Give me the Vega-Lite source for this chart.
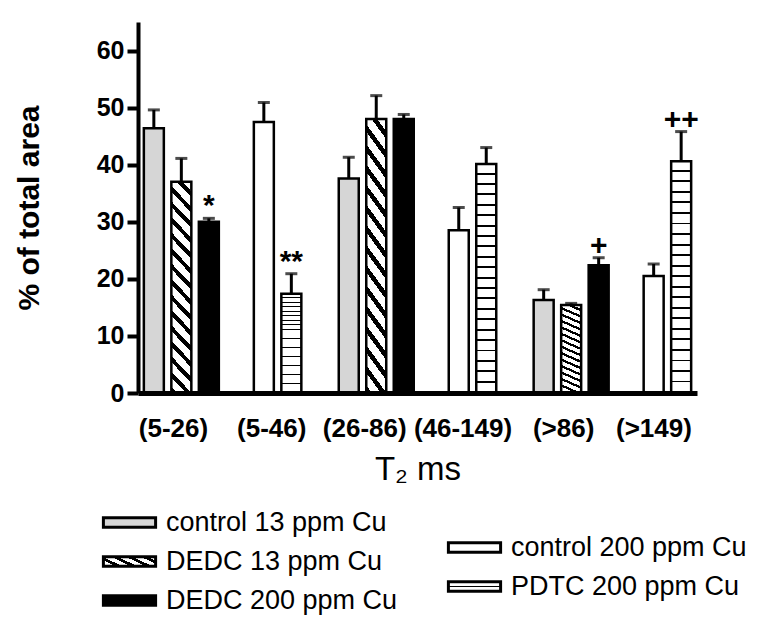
{
  "$schema": "https://vega.github.io/schema/vega-lite/v6.json",
  "width": 559,
  "height": 371,
  "autosize": {"type": "none"},
  "padding": {"left": 138, "top": 22, "right": 61, "bottom": 243},
  "background": "white",
  "config": {"view": {"stroke": null}, "font": "Liberation Sans"},
  "data": {
    "values": [
      {"component": "c1", "interval": "(5-26)", "series": "control 13 ppm Cu", "value": 46.4, "upper": 49.6, "ann": ""},
      {"component": "c1", "interval": "(5-26)", "series": "DEDC 13 ppm Cu", "value": 37.0, "upper": 41.1, "ann": ""},
      {"component": "c1", "interval": "(5-26)", "series": "DEDC 200 ppm Cu", "value": 30.0, "upper": 30.6, "ann": "*"},
      {"component": "c1", "interval": "(5-46)", "series": "control 200 ppm Cu", "value": 47.5, "upper": 50.9, "ann": ""},
      {"component": "c1", "interval": "(5-46)", "series": "PDTC 200 ppm Cu", "value": 17.4, "upper": 20.9, "ann": "**"},
      {"component": "c2", "interval": "(26-86)", "series": "control 13 ppm Cu", "value": 37.6, "upper": 41.3, "ann": ""},
      {"component": "c2", "interval": "(26-86)", "series": "DEDC 13 ppm Cu", "value": 48.0, "upper": 52.1, "ann": ""},
      {"component": "c2", "interval": "(26-86)", "series": "DEDC 200 ppm Cu", "value": 48.0, "upper": 48.8, "ann": ""},
      {"component": "c2", "interval": "(46-149)", "series": "control 200 ppm Cu", "value": 28.5, "upper": 32.5, "ann": ""},
      {"component": "c2", "interval": "(46-149)", "series": "PDTC 200 ppm Cu", "value": 40.1, "upper": 43.0, "ann": ""},
      {"component": "c3", "interval": "(>86)", "series": "control 13 ppm Cu", "value": 16.3, "upper": 18.1, "ann": ""},
      {"component": "c3", "interval": "(>86)", "series": "DEDC 13 ppm Cu", "value": 15.4, "upper": 15.7, "ann": ""},
      {"component": "c3", "interval": "(>86)", "series": "DEDC 200 ppm Cu", "value": 22.4, "upper": 23.7, "ann": "+"},
      {"component": "c3", "interval": "(>149)", "series": "control 200 ppm Cu", "value": 20.5, "upper": 22.6, "ann": ""},
      {"component": "c3", "interval": "(>149)", "series": "PDTC 200 ppm Cu", "value": 40.6, "upper": 45.8, "ann": "++"}
    ]
  },
  "encoding": {
    "x": {
      "field": "component",
      "type": "nominal",
      "scale": {"domain": ["c1", "c2", "c3"], "paddingInner": 0.192, "paddingOuter": 0.03},
      "axis": {
        "title": "T₂ ms",
        "ticks": false,
        "domainColor": "black",
        "domainWidth": 5,
        "labelAngle": 0,
        "labelFont": "Liberation Sans",
        "labelFontSize": 26,
        "labelFontWeight": "bold",
        "labelColor": "black",
        "labelPadding": 22,
        "labelLimit": 400,
        "labelExpr": "datum.value == 'c1' ? '\u00a0\u00a0(5-26)\u00a0\u00a0\u00a0\u00a0(5-46)' : datum.value == 'c2' ? '\u00a0\u00a0\u00a0\u00a0(26-86)\u00a0(46-149)' : '\u00a0\u00a0(>86)\u00a0\u00a0\u00a0(>149)'",
        "titleFont": "Liberation Sans",
        "titleFontSize": 33,
        "titleFontWeight": "normal",
        "titleColor": "black",
        "titlePadding": 12,
        "zindex": 1
      }
    },
    "xOffset": {
      "field": "series",
      "type": "nominal",
      "scale": {
        "domain": ["control 13 ppm Cu", "DEDC 13 ppm Cu", "DEDC 200 ppm Cu", " ", "control 200 ppm Cu", "PDTC 200 ppm Cu"],
        "paddingInner": 0.273,
        "paddingOuter": 0
      }
    }
  },
  "layer": [
    {
      "mark": {"type": "bar", "stroke": "black", "strokeWidth": 2.5},
      "encoding": {
        "y": {
          "field": "value",
          "type": "quantitative",
          "title": "% of total area",
          "scale": {"domain": [0, 65], "nice": false},
          "axis": {
            "values": [0, 10, 20, 30, 40, 50, 60],
            "grid": false,
            "domainColor": "black",
            "domainWidth": 4,
            "tickColor": "black",
            "tickWidth": 4,
            "tickSize": 11,
            "labelFont": "Liberation Sans",
            "labelFontSize": 25,
            "labelFontWeight": "bold",
            "labelColor": "black",
            "labelPadding": 3,
            "titleFont": "Liberation Sans",
            "titleFontSize": 30,
            "titleFontWeight": "bold",
            "titleColor": "black",
            "titlePadding": 52,
            "zindex": 1
          }
        },
        "fill": {
          "condition": [
            {"test": "datum.series == 'control 13 ppm Cu'", "value": "#d6d6d6"},
            {"test": "datum.series == 'DEDC 200 ppm Cu'", "value": "black"},
            {"test": "datum.series == 'DEDC 13 ppm Cu'", "value": {"gradient": "linear", "x1": 1, "y1": 0, "x2": 0.891, "y2": 1.089, "stops": [
              {"offset": 0, "color": "#fff"}, {"offset": 0.0413, "color": "#fff"}, {"offset": 0.0413, "color": "#000"}, {"offset": 0.0667, "color": "#000"},
              {"offset": 0.0667, "color": "#fff"}, {"offset": 0.108, "color": "#fff"}, {"offset": 0.108, "color": "#000"}, {"offset": 0.1333, "color": "#000"},
              {"offset": 0.1333, "color": "#fff"}, {"offset": 0.1747, "color": "#fff"}, {"offset": 0.1747, "color": "#000"}, {"offset": 0.2, "color": "#000"},
              {"offset": 0.2, "color": "#fff"}, {"offset": 0.2413, "color": "#fff"}, {"offset": 0.2413, "color": "#000"}, {"offset": 0.2667, "color": "#000"},
              {"offset": 0.2667, "color": "#fff"}, {"offset": 0.308, "color": "#fff"}, {"offset": 0.308, "color": "#000"}, {"offset": 0.3333, "color": "#000"},
              {"offset": 0.3333, "color": "#fff"}, {"offset": 0.3747, "color": "#fff"}, {"offset": 0.3747, "color": "#000"}, {"offset": 0.4, "color": "#000"},
              {"offset": 0.4, "color": "#fff"}, {"offset": 0.4413, "color": "#fff"}, {"offset": 0.4413, "color": "#000"}, {"offset": 0.4667, "color": "#000"},
              {"offset": 0.4667, "color": "#fff"}, {"offset": 0.508, "color": "#fff"}, {"offset": 0.508, "color": "#000"}, {"offset": 0.5333, "color": "#000"},
              {"offset": 0.5333, "color": "#fff"}, {"offset": 0.5747, "color": "#fff"}, {"offset": 0.5747, "color": "#000"}, {"offset": 0.6, "color": "#000"},
              {"offset": 0.6, "color": "#fff"}, {"offset": 0.6413, "color": "#fff"}, {"offset": 0.6413, "color": "#000"}, {"offset": 0.6667, "color": "#000"},
              {"offset": 0.6667, "color": "#fff"}, {"offset": 0.708, "color": "#fff"}, {"offset": 0.708, "color": "#000"}, {"offset": 0.7333, "color": "#000"},
              {"offset": 0.7333, "color": "#fff"}, {"offset": 0.7747, "color": "#fff"}, {"offset": 0.7747, "color": "#000"}, {"offset": 0.8, "color": "#000"},
              {"offset": 0.8, "color": "#fff"}, {"offset": 0.8413, "color": "#fff"}, {"offset": 0.8413, "color": "#000"}, {"offset": 0.8667, "color": "#000"},
              {"offset": 0.8667, "color": "#fff"}, {"offset": 0.908, "color": "#fff"}, {"offset": 0.908, "color": "#000"}, {"offset": 0.9333, "color": "#000"},
              {"offset": 0.9333, "color": "#fff"}, {"offset": 0.9747, "color": "#fff"}, {"offset": 0.9747, "color": "#000"}, {"offset": 1, "color": "#000"}
            ]}},
            {"test": "datum.series == 'PDTC 200 ppm Cu'", "value": {"gradient": "linear", "x1": 0, "y1": 0, "x2": 0, "y2": 1, "stops": [
              {"offset": 0, "color": "#fff"}, {"offset": 0.0373, "color": "#fff"}, {"offset": 0.0373, "color": "#000"}, {"offset": 0.0455, "color": "#000"},
              {"offset": 0.0455, "color": "#fff"}, {"offset": 0.0827, "color": "#fff"}, {"offset": 0.0827, "color": "#000"}, {"offset": 0.0909, "color": "#000"},
              {"offset": 0.0909, "color": "#fff"}, {"offset": 0.1282, "color": "#fff"}, {"offset": 0.1282, "color": "#000"}, {"offset": 0.1364, "color": "#000"},
              {"offset": 0.1364, "color": "#fff"}, {"offset": 0.1736, "color": "#fff"}, {"offset": 0.1736, "color": "#000"}, {"offset": 0.1818, "color": "#000"},
              {"offset": 0.1818, "color": "#fff"}, {"offset": 0.2191, "color": "#fff"}, {"offset": 0.2191, "color": "#000"}, {"offset": 0.2273, "color": "#000"},
              {"offset": 0.2273, "color": "#fff"}, {"offset": 0.2645, "color": "#fff"}, {"offset": 0.2645, "color": "#000"}, {"offset": 0.2727, "color": "#000"},
              {"offset": 0.2727, "color": "#fff"}, {"offset": 0.31, "color": "#fff"}, {"offset": 0.31, "color": "#000"}, {"offset": 0.3182, "color": "#000"},
              {"offset": 0.3182, "color": "#fff"}, {"offset": 0.3555, "color": "#fff"}, {"offset": 0.3555, "color": "#000"}, {"offset": 0.3636, "color": "#000"},
              {"offset": 0.3636, "color": "#fff"}, {"offset": 0.4009, "color": "#fff"}, {"offset": 0.4009, "color": "#000"}, {"offset": 0.4091, "color": "#000"},
              {"offset": 0.4091, "color": "#fff"}, {"offset": 0.4464, "color": "#fff"}, {"offset": 0.4464, "color": "#000"}, {"offset": 0.4545, "color": "#000"},
              {"offset": 0.4545, "color": "#fff"}, {"offset": 0.4918, "color": "#fff"}, {"offset": 0.4918, "color": "#000"}, {"offset": 0.5, "color": "#000"},
              {"offset": 0.5, "color": "#fff"}, {"offset": 0.5373, "color": "#fff"}, {"offset": 0.5373, "color": "#000"}, {"offset": 0.5455, "color": "#000"},
              {"offset": 0.5455, "color": "#fff"}, {"offset": 0.5827, "color": "#fff"}, {"offset": 0.5827, "color": "#000"}, {"offset": 0.5909, "color": "#000"},
              {"offset": 0.5909, "color": "#fff"}, {"offset": 0.6282, "color": "#fff"}, {"offset": 0.6282, "color": "#000"}, {"offset": 0.6364, "color": "#000"},
              {"offset": 0.6364, "color": "#fff"}, {"offset": 0.6736, "color": "#fff"}, {"offset": 0.6736, "color": "#000"}, {"offset": 0.6818, "color": "#000"},
              {"offset": 0.6818, "color": "#fff"}, {"offset": 0.7191, "color": "#fff"}, {"offset": 0.7191, "color": "#000"}, {"offset": 0.7273, "color": "#000"},
              {"offset": 0.7273, "color": "#fff"}, {"offset": 0.7645, "color": "#fff"}, {"offset": 0.7645, "color": "#000"}, {"offset": 0.7727, "color": "#000"},
              {"offset": 0.7727, "color": "#fff"}, {"offset": 0.81, "color": "#fff"}, {"offset": 0.81, "color": "#000"}, {"offset": 0.8182, "color": "#000"},
              {"offset": 0.8182, "color": "#fff"}, {"offset": 0.8555, "color": "#fff"}, {"offset": 0.8555, "color": "#000"}, {"offset": 0.8636, "color": "#000"},
              {"offset": 0.8636, "color": "#fff"}, {"offset": 0.9009, "color": "#fff"}, {"offset": 0.9009, "color": "#000"}, {"offset": 0.9091, "color": "#000"},
              {"offset": 0.9091, "color": "#fff"}, {"offset": 0.9464, "color": "#fff"}, {"offset": 0.9464, "color": "#000"}, {"offset": 0.9545, "color": "#000"},
              {"offset": 0.9545, "color": "#fff"}, {"offset": 0.9918, "color": "#fff"}, {"offset": 0.9918, "color": "#000"}, {"offset": 1, "color": "#000"}
            ]}}
          ],
          "value": "white"
        }
      }
    },
    {
      "transform": [{"filter": "indexof(['control 13 ppm Cu','DEDC 13 ppm Cu','DEDC 200 ppm Cu'], datum.series) >= 0"}],
      "mark": {"type": "bar", "opacity": 0},
      "encoding": {
        "y": {"field": "value", "type": "quantitative", "title": "% of total area"},
        "color": {
          "field": "series",
          "type": "nominal",
          "scale": {
            "domain": ["control 13 ppm Cu", "DEDC 13 ppm Cu", "DEDC 200 ppm Cu"],
            "range": [
              "#d6d6d6",
              {"expr": "{gradient:'linear',x1:1,y1:0,x2:-0.25,y2:0.48,stops:[{offset:0,color:'#fff'},{offset:0.11,color:'#fff'},{offset:0.11,color:'#000'},{offset:0.2,color:'#000'},{offset:0.2,color:'#fff'},{offset:0.31,color:'#fff'},{offset:0.31,color:'#000'},{offset:0.4,color:'#000'},{offset:0.4,color:'#fff'},{offset:0.51,color:'#fff'},{offset:0.51,color:'#000'},{offset:0.6,color:'#000'},{offset:0.6,color:'#fff'},{offset:0.71,color:'#fff'},{offset:0.71,color:'#000'},{offset:0.8,color:'#000'},{offset:0.8,color:'#fff'},{offset:0.91,color:'#fff'},{offset:0.91,color:'#000'},{offset:1,color:'#000'}]}"},
              "black"
            ]
          },
          "legend": {
            "title": null,
            "orient": "none",
            "legendX": -28,
            "legendY": 481,
            "rowPadding": 6,
            "labelFont": "Liberation Sans",
            "labelFontSize": 27,
            "labelColor": "black",
            "labelLimit": 400,
            "labelOffset": 17,
            "symbolType": "M-1.45,-0.27L1.45,-0.27L1.45,0.27L-1.45,0.27Z",
            "symbolSize": 1296,
            "symbolStrokeColor": "black",
            "symbolStrokeWidth": 3,
            "symbolOpacity": 1,
            "encode": {
              "symbols": {
                "update": {
                  "stroke": {"value": "black"},
                  "strokeWidth": {"value": 3},
                  "opacity": {"value": 1}
                }
              }
            }
          }
        }
      }
    },
    {
      "transform": [{"filter": "indexof(['control 200 ppm Cu','PDTC 200 ppm Cu'], datum.series) >= 0"}],
      "mark": {"type": "bar", "opacity": 0},
      "encoding": {
        "y": {"field": "value", "type": "quantitative", "title": "% of total area"},
        "fill": {
          "field": "series",
          "type": "nominal",
          "scale": {
            "domain": ["control 200 ppm Cu", "PDTC 200 ppm Cu"],
            "range": [
              "white",
              {"expr": "{gradient:'linear',x1:0,y1:0,x2:0,y2:1,stops:[{offset:0,color:'#fff'},{offset:0.43,color:'#fff'},{offset:0.43,color:'#000'},{offset:0.57,color:'#000'},{offset:0.57,color:'#fff'},{offset:1,color:'#fff'}]}"}
            ]
          },
          "legend": {
            "title": null,
            "orient": "none",
            "legendX": 317,
            "legendY": 506,
            "rowPadding": 6,
            "labelFont": "Liberation Sans",
            "labelFontSize": 27,
            "labelColor": "black",
            "labelLimit": 400,
            "labelOffset": 17,
            "symbolType": "M-1.45,-0.27L1.45,-0.27L1.45,0.27L-1.45,0.27Z",
            "symbolSize": 1296,
            "symbolStrokeColor": "black",
            "symbolStrokeWidth": 3,
            "symbolOpacity": 1,
            "encode": {
              "symbols": {
                "update": {
                  "stroke": {"value": "black"},
                  "strokeWidth": {"value": 3},
                  "opacity": {"value": 1}
                }
              }
            }
          }
        }
      }
    },
    {
      "mark": {"type": "rule", "color": "black", "strokeWidth": 3},
      "encoding": {
        "y": {"field": "value", "type": "quantitative", "title": "% of total area"},
        "y2": {"field": "upper"}
      }
    },
    {
      "mark": {"type": "tick", "color": "black", "thickness": 3, "size": 12, "orient": "horizontal"},
      "encoding": {
        "y": {"field": "upper", "type": "quantitative", "title": "% of total area"}
      }
    },
    {
      "transform": [{"filter": "datum.ann != ''"}],
      "mark": {"type": "text", "font": "Liberation Sans", "fontSize": 30, "fontWeight": "bold", "baseline": "alphabetic", "dy": -3, "color": "black"},
      "encoding": {
        "y": {"field": "upper", "type": "quantitative", "title": "% of total area"},
        "text": {"field": "ann"}
      }
    }
  ]
}
